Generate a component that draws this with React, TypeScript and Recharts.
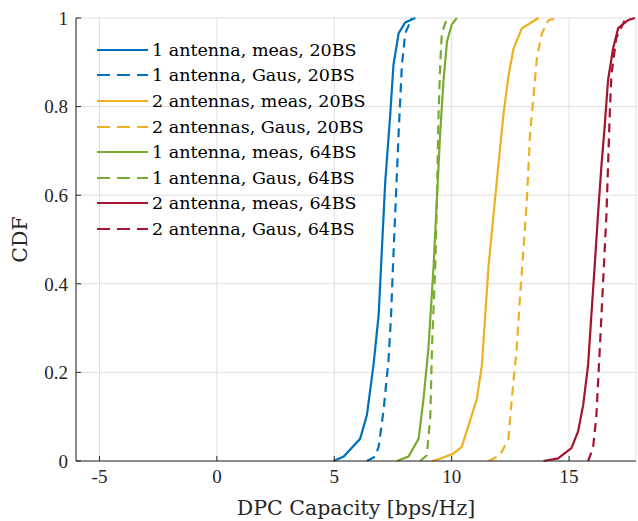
import React from "react";
import {
  LineChart,
  Line,
  XAxis,
  YAxis,
  CartesianGrid,
} from "recharts";

// CDF curves (x = capacity, y = CDF level)
const blueMeasX = [4.97, 5.4, 6.1, 6.39, 6.67, 6.89, 7.03, 7.17, 7.38, 7.52, 7.74, 8.02, 8.45];
const blueMeasY = [0, 0.01, 0.05, 0.104, 0.217, 0.33, 0.48, 0.63, 0.78, 0.894, 0.965, 0.99, 1];

const blueGausX = [6.39, 6.74, 6.89, 7.1, 7.31, 7.42, 7.5, 7.62, 7.74, 7.88, 8.02, 8.3];
const blueGausY = [0, 0.01, 0.032, 0.115, 0.228, 0.33, 0.44, 0.59, 0.74, 0.894, 0.965, 1];

const yellowMeasX = [9.16, 9.51, 10.08, 10.43, 10.86, 11.07, 11.29, 11.43, 11.57, 11.78, 11.99, 12.2, 12.42, 12.63, 12.99, 13.7];
const yellowMeasY = [0, 0.005, 0.017, 0.032, 0.104, 0.14, 0.217, 0.33, 0.44, 0.555, 0.668, 0.78, 0.87, 0.93, 0.977, 1];

const yellowGausX = [11.57, 12.06, 12.42, 12.56, 12.77, 12.91, 13.06, 13.2, 13.34, 13.48, 13.63, 13.84, 14.12, 14.48];
const yellowGausY = [0, 0.013, 0.05, 0.14, 0.255, 0.37, 0.48, 0.59, 0.74, 0.82, 0.91, 0.965, 0.995, 1];

const greenMeasX = [7.67, 8.16, 8.59, 8.8, 9.01, 9.23, 9.37, 9.51, 9.65, 9.8, 10.0, 10.22];
const greenMeasY = [0, 0.01, 0.05, 0.14, 0.255, 0.44, 0.59, 0.74, 0.857, 0.947, 0.985, 1];

const greenGausX = [8.66, 8.94, 9.09, 9.16, 9.3, 9.37, 9.44, 9.51, 9.58, 9.8];
const greenGausY = [0, 0.013, 0.1, 0.255, 0.44, 0.59, 0.78, 0.894, 0.965, 1];

const redMeasX = [13.91, 14.53, 15.1, 15.38, 15.6, 15.81, 15.95, 16.09, 16.23, 16.38, 16.52, 16.66, 16.87, 17.09, 17.51, 17.8];
const redMeasY = [0, 0.006, 0.029, 0.066, 0.126, 0.217, 0.33, 0.44, 0.555, 0.668, 0.758, 0.86, 0.93, 0.977, 0.995, 1];

const redGausX = [15.81, 16.02, 16.16, 16.31, 16.45, 16.59, 16.66, 16.73, 16.8, 17.01, 17.37, 17.6];
const redGausY = [0, 0.029, 0.1, 0.255, 0.405, 0.555, 0.668, 0.78, 0.87, 0.955, 0.995, 1];

const xTicks = [-5, 0, 5, 10, 15];
const yTicks = [0, 0.2, 0.4, 0.6, 0.8, 1];

const zip = (xs: number[], ys: number[]) => xs.map((x, i) => ({ x, y: ys[i] }));

const series = [
  { name: "1 antenna, meas, 20BS", color: "#0072BD", dashed: false, data: zip(blueMeasX, blueMeasY) },
  { name: "1 antenna, Gaus, 20BS", color: "#0072BD", dashed: true, data: zip(blueGausX, blueGausY) },
  { name: "2 antennas, meas, 20BS", color: "#EDB120", dashed: false, data: zip(yellowMeasX, yellowMeasY) },
  { name: "2 antennas, Gaus, 20BS", color: "#EDB120", dashed: true, data: zip(yellowGausX, yellowGausY) },
  { name: "1 antenna, meas, 64BS", color: "#77AC30", dashed: false, data: zip(greenMeasX, greenMeasY) },
  { name: "1 antenna, Gaus, 64BS", color: "#77AC30", dashed: true, data: zip(greenGausX, greenGausY) },
  { name: "2 antenna, meas, 64BS", color: "#A2142F", dashed: false, data: zip(redMeasX, redMeasY) },
  { name: "2 antenna, Gaus, 64BS", color: "#A2142F", dashed: true, data: zip(redGausX, redGausY) },
];

const axisColor = "#262626";
const tickStyle = { fill: axisColor, fontFamily: "Liberation Serif", fontSize: 19 };
const labelFont = "DejaVu Serif";

// legend drawn as an overlay so it does not shrink the plot area
const ChartLegend = () => (
  <div
    style={{
      position: "absolute",
      left: 97,
      top: 37,
      fontFamily: labelFont,
      fontSize: 17.5,
      color: "#000",
    }}
  >
    {series.map((s) => (
      <div key={s.name} style={{ display: "flex", alignItems: "center", height: 25.6 }}>
        <svg width={55} height={6} style={{ marginRight: 0 }}>
          <line
            x1={0}
            y1={3}
            x2={51}
            y2={3}
            stroke={s.color}
            strokeWidth={2.2}
            strokeDasharray={s.dashed ? "13 7" : undefined}
          />
        </svg>
        <span style={{ whiteSpace: "nowrap" }}>{s.name}</span>
      </div>
    ))}
  </div>
);

const App: React.FC = () => {
  return (
    <div style={{ position: "absolute", left: 0, top: 0, width: 638, height: 521, background: "#fff" }}>
      <LineChart width={638} height={521} margin={{ top: 18, right: 2, bottom: 0, left: 0 }}>
        <CartesianGrid stroke="#dfdfdf" strokeWidth={1} />
        <XAxis
          type="number"
          dataKey="x"
          domain={[-6, 17.85]}
          ticks={xTicks}
          allowDataOverflow
          height={60}
          stroke={axisColor}
          tickSize={-5}
          tickMargin={14}
          tick={tickStyle}
          label={{
            value: "DPC Capacity [bps/Hz]",
            position: "center",
            dy: 17,
            style: { fontFamily: labelFont, fontSize: 20.5, fill: axisColor },
          }}
        />
        <YAxis
          type="number"
          dataKey="y"
          domain={[0, 1]}
          ticks={yTicks}
          width={76}
          stroke={axisColor}
          tickSize={-5}
          tickMargin={13}
          tick={tickStyle}
          label={{
            value: "CDF",
            angle: -90,
            position: "center",
            dx: -18,
            style: { fontFamily: labelFont, fontSize: 20.5, fill: axisColor, textAnchor: "middle" },
          }}
        />
        {series.map((s) => (
          <Line
            key={s.name}
            data={s.data}
            dataKey="y"
            name={s.name}
            type="linear"
            stroke={s.color}
            strokeWidth={2.2}
            strokeDasharray={s.dashed ? "9 6" : undefined}
            dot={false}
            activeDot={false}
            isAnimationActive={false}
          />
        ))}
      </LineChart>
      <ChartLegend />
    </div>
  );
};

export default App;
